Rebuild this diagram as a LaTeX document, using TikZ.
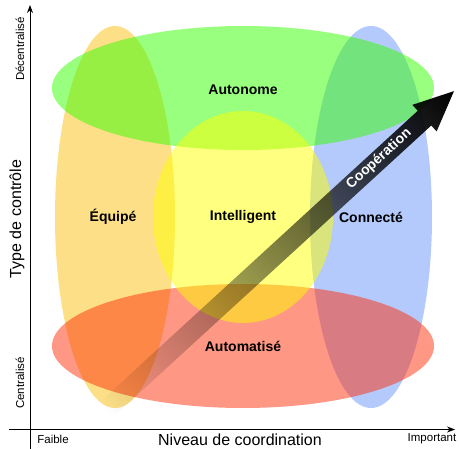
\documentclass[tikz,border=0pt]{standalone}
\usepackage{fontspec}
\setmainfont{Liberation Sans}
\usetikzlibrary{arrows.meta,fadings}
\definecolor{cOrange}{RGB}{252,192,16}
\definecolor{cBlue}{RGB}{105,147,249}
\definecolor{cGreen}{RGB}{51,255,0}
\definecolor{cRed}{RGB}{253,47,9}
\definecolor{cYellow}{RGB}{255,255,1}
\tikzfading[name=arrowfade, left color=transparent!100, middle color=transparent!35, right color=transparent!0]
\begin{document}
\begin{tikzpicture}[x=1pt,y=-1pt,
  blob/.style={fill opacity=0.5},
  blab/.style={font=\fontsize{14}{16}\selectfont\bfseries, text=black},
  tick/.style={font=\fontsize{11.5}{13}\selectfont},
  axlab/.style={font=\fontsize{16}{18}\selectfont},
  axis/.style={line width=1pt, -{Stealth[length=8pt,width=6pt]}}]
\useasboundingbox (0,0) rectangle (459,449);
% sets
\fill[cOrange, blob] (115,217) ellipse [x radius=60pt, y radius=191pt];
\fill[cBlue, blob] (371,217) ellipse [x radius=61pt, y radius=191pt];
\fill[cGreen, blob] (243,88) ellipse [x radius=191pt, y radius=62pt];
\fill[cRed, blob] (243,346) ellipse [x radius=191pt, y radius=62pt];
\fill[cYellow, blob] (243,217) ellipse [x radius=90pt, y radius=106pt];
% labels
\node[blab] (auto) at (243,90) {Autonome};
\node[blab] (equi) at (113,217) {Équipé};
\node[blab] (intel) at (243,217) {Intelligent};
\node[blab] (conn) at (371,217) {Connecté};
\node[blab] (autom) at (243,346) {Automatisé};
% cooperation arrow
\begin{scope}[transform canvas={shift={(106,410)}, rotate=42.5}]
  \fill[black, path fading=arrowfade] (0,-10) -- (432,-10) -- (432,-18) -- (472,0) -- (432,18) -- (432,10) -- (0,10) -- cycle;
\end{scope}
\node[blab, text=white, rotate=42.5] (coop) at (379,159) {Coopération};
% axes
\coordinate (ybot) at (30,449);
\coordinate (ytop) at (30,5);
\coordinate (xleft) at (9,429.5);
\coordinate (xright) at (455,429.5);
\draw[axis] (ybot) -- (ytop);
\draw[axis] (xleft) -- (xright);
\node[tick, rotate=90] (dec) at (20,49) {Décentralisé};
\node[tick, rotate=90] (cen) at (20,383) {Centralisé};
\node[axlab, rotate=90] (type) at (17,219) {Type de contrôle};
\node[tick] (faib) at (53,439) {Faible};
\node[tick] (imp) at (432,439) {Important};
\node[axlab] (niv) at (240,440) {Niveau de coordination};
\end{tikzpicture}
\end{document}
